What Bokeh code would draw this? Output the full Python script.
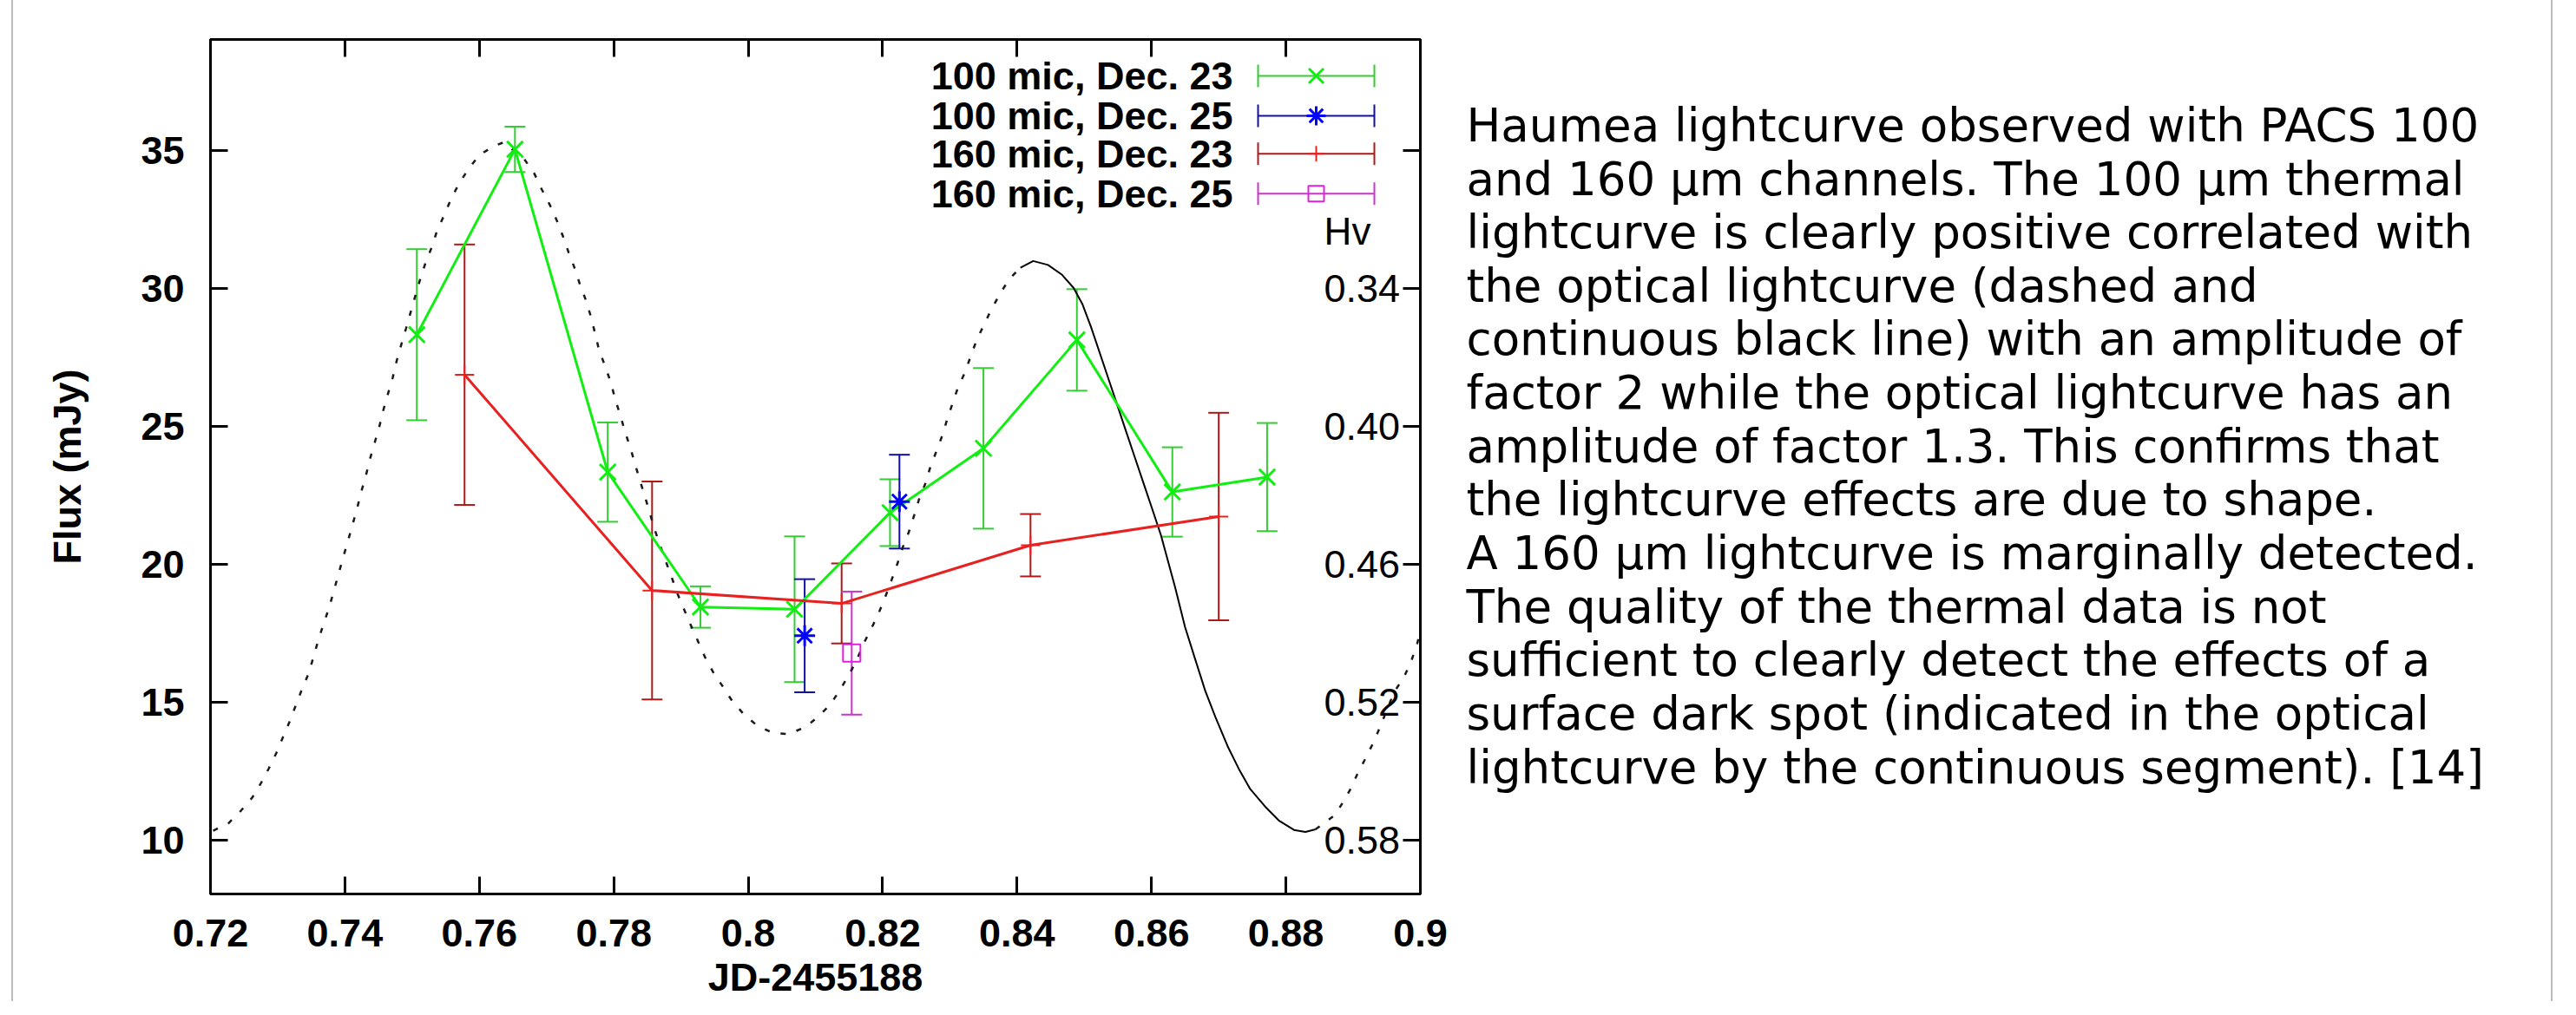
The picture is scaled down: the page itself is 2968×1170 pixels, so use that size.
from bokeh.plotting import figure
from bokeh.layouts import row
from bokeh.models import (Range1d, LinearAxis, FixedTicker, Whisker, TeeHead,
                          ColumnDataSource, Label)
from bokeh.core.properties import value
from bokeh.embed import file_html
from bokeh.resources import INLINE

# ------------------------------------------------------------------ data
x_ticks = [0.72, 0.74, 0.76, 0.78, 0.80, 0.82, 0.84, 0.86, 0.88, 0.90]
x_tick_labels = ["0.72", "0.74", "0.76", "0.78", "0.8", "0.82", "0.84", "0.86", "0.88", "0.9"]
flux_ticks = [10, 15, 20, 25, 30, 35]
hv_ticks = [0.34, 0.40, 0.46, 0.52, 0.58]
hv_tick_labels = ["0.34", "0.40", "0.46", "0.52", "0.58"]
hv_mirror_ticks = [0.28]      # unlabelled tick on the right spine (flux 35 level)
hv_at_flux30 = 0.34           # right-hand Hv scale tie points
hv_at_flux10 = 0.58

series_labels = ["100 mic, Dec. 23", "100 mic, Dec. 25", "160 mic, Dec. 23", "160 mic, Dec. 25"]

jd_100_dec23 = [0.7507, 0.7653, 0.7791, 0.7929, 0.8069, 0.8211, 0.8350, 0.8489, 0.8631, 0.8772]
flux_100_dec23 = [28.33, 35.05, 23.35, 18.46, 18.38, 21.88, 24.21, 28.14, 22.63, 23.17]
err_100_dec23 = [3.10, 0.82, 1.80, 0.75, 2.64, 1.21, 2.91, 1.84, 1.62, 1.96]

jd_100_dec25 = [0.8084, 0.8225]
flux_100_dec25 = [17.42, 22.28]
err_100_dec25 = [2.05, 1.70]

jd_160_dec23 = [0.7578, 0.7857, 0.8139, 0.8420, 0.8700]
flux_160_dec23 = [26.88, 19.06, 18.59, 20.70, 21.74]
err_160_dec23 = [4.72, 3.95, 1.45, 1.13, 3.76]

jd_160_dec25 = [0.8154]
flux_160_dec25 = [16.79]
err_160_dec25 = [2.23]

# optical lightcurve (plotted on the flux scale)
optical_jd = [0.7204, 0.7227, 0.7245, 0.7262, 0.7275, 0.7287, 0.7298, 0.7308, 0.7318,
              0.7327, 0.7336, 0.7346, 0.7353, 0.7360, 0.7368, 0.7376, 0.7383, 0.7390,
              0.7397, 0.7404, 0.7411, 0.7418, 0.7424, 0.7431, 0.7437, 0.7444, 0.7451,
              0.7457, 0.7464, 0.7471, 0.7477, 0.7484, 0.7491, 0.7498, 0.7505, 0.7512,
              0.7520, 0.7529, 0.7537, 0.7548, 0.7558, 0.7570, 0.7584, 0.7600, 0.7621,
              0.7636, 0.7667, 0.7682, 0.7693, 0.7705, 0.7716, 0.7725, 0.7733, 0.7742,
              0.7750, 0.7759, 0.7766, 0.7772, 0.7778, 0.7787, 0.7796, 0.7802, 0.7810,
              0.7817, 0.7825, 0.7832, 0.7847, 0.7854, 0.7861, 0.7869, 0.7878, 0.7887,
              0.7895, 0.7905, 0.7915, 0.7926, 0.7936, 0.7949, 0.7963, 0.7976, 0.7994,
              0.8012, 0.8036, 0.8060, 0.8085, 0.8104, 0.8122, 0.8137, 0.8151, 0.8162,
              0.8172, 0.8183, 0.8194, 0.8204, 0.8213, 0.8222, 0.8230, 0.8239, 0.8247,
              0.8254, 0.8264, 0.8271, 0.8280, 0.8289, 0.8296, 0.8304, 0.8312, 0.8323,
              0.8332, 0.8340, 0.8351, 0.8362, 0.8375, 0.8388, 0.8405, 0.8424, 0.8446,
              0.8467, 0.8484, 0.8497, 0.8510, 0.8523, 0.8536, 0.8549, 0.8562, 0.8575,
              0.8588, 0.8601, 0.8614, 0.8635, 0.8650, 0.8665, 0.8680, 0.8695, 0.8713,
              0.8730, 0.8747, 0.8769, 0.8790, 0.8812, 0.8829, 0.8844, 0.8873, 0.8885,
              0.8896, 0.8906, 0.8917, 0.8930, 0.8941, 0.8951, 0.8962, 0.8975, 0.8986,
              0.8995, 0.9000]
optical_flux = [10.35, 10.63, 11.07, 11.55, 12.07, 12.62, 13.17, 13.75, 14.32,
                14.90, 15.47, 16.05, 16.63, 17.22, 17.83, 18.40, 19.00, 19.61,
                20.22, 20.81, 21.41, 22.02, 22.61, 23.20, 23.80, 24.39, 24.98,
                25.58, 26.18, 26.76, 27.38, 27.98, 28.56, 29.16, 29.76, 30.34,
                30.94, 31.49, 32.09, 32.68, 33.25, 33.82, 34.34, 34.84, 35.16,
                35.30, 34.69, 34.16, 33.59, 33.03, 32.43, 31.86, 31.30, 30.73,
                30.13, 29.55, 28.98, 28.40, 27.78, 27.20, 26.57, 26.00, 25.39,
                24.79, 24.21, 23.61, 22.41, 21.83, 21.26, 20.69, 20.08, 19.48,
                18.93, 18.35, 17.78, 17.18, 16.63, 16.05, 15.55, 15.06, 14.56,
                14.19, 13.90, 13.85, 14.11, 14.48, 14.92, 15.47, 16.05, 16.57,
                17.15, 17.67, 18.23, 18.83, 19.42, 20.03, 20.63, 21.18, 21.79,
                22.35, 22.96, 23.54, 24.11, 24.69, 25.26, 25.84, 26.41, 26.99,
                27.62, 28.14, 28.70, 29.26, 29.82, 30.34, 30.76, 31.00, 30.86,
                30.50, 30.03, 29.45, 28.61, 27.67, 26.73, 25.79, 24.84, 23.90,
                22.96, 22.02, 21.07, 19.19, 17.73, 16.57, 15.42, 14.48, 13.43,
                12.59, 11.86, 11.23, 10.71, 10.38, 10.31, 10.40, 10.92, 11.39,
                11.86, 12.39, 12.91, 13.54, 14.16, 14.79, 15.42, 15.89, 16.47,
                17.10, 17.60]
spot_start = 0.8405   # continuous (dark spot) segment of the optical curve
spot_end = 0.8844

caption_lines = [
    "Haumea lightcurve observed with PACS 100",
    "and 160 \u00b5m channels. The 100 \u00b5m thermal",
    "lightcurve is clearly positive correlated with",
    "the optical lightcurve (dashed and",
    "continuous black line) with an amplitude of",
    "factor 2 while the optical lightcurve has an",
    "amplitude of factor 1.3. This confirms that",
    "the lightcurve effects are due to shape.",
    "A 160 \u00b5m lightcurve is marginally detected.",
    "The quality of the thermal data is not",
    "sufficient to clearly detect the effects of a",
    "surface dark spot (indicated in the optical",
    "lightcurve by the continuous segment). [14]",
]

# ------------------------------------------------------------------ layout / style
W, H = 2952, 1154
CHART_W = 1668
CAP_W = W - CHART_W
CAP_OX = CHART_W                   # caption canvas origin (page px)

FL, FR, FT, FB = 242, 1636, 45, 1031   # chart frame edges (page px)
X0, X1 = 0.72, 0.90
Y0, Y1 = 8.06, 39.03
FONT = "Liberation Sans"
TXT = "45px"


def hv_of(flux):
    return hv_at_flux10 + (flux - 10) * (hv_at_flux30 - hv_at_flux10) / 20.0


def x_at(px):
    return X0 + (px - FL) * (X1 - X0) / (FR - FL)


def y_at(py):
    return Y1 - (py - FT) * (Y1 - Y0) / (FB - FT)


p = figure(width=CHART_W, height=H, x_range=Range1d(X0, X1), y_range=Range1d(Y0, Y1),
           output_backend="svg", toolbar_location=None,
           min_border_left=FL, min_border_right=CHART_W - FR,
           min_border_top=FT, min_border_bottom=H - FB)
p.extra_y_ranges = {"hv": Range1d(start=hv_of(Y0), end=hv_of(Y1))}
p.xgrid.visible = False
p.ygrid.visible = False
p.outline_line_color = "black"
p.outline_line_width = 3
p.background_fill_color = "white"
p.border_fill_color = None


def style_axis(ax):
    ax.major_tick_in = 20
    ax.major_tick_out = 0
    ax.minor_tick_in = 20
    ax.minor_tick_out = 0
    ax.major_tick_line_width = 3
    ax.minor_tick_line_width = 3
    ax.major_tick_line_color = "black"
    ax.minor_tick_line_color = "black"
    ax.axis_line_width = 3
    ax.axis_line_color = "black"
    ax.major_label_text_font = FONT
    ax.major_label_text_font_size = TXT
    ax.major_label_text_font_style = "bold"
    ax.major_label_text_color = "black"
    ax.axis_label_text_font = FONT
    ax.axis_label_text_font_size = TXT
    ax.axis_label_text_font_style = "bold"
    ax.axis_label_text_color = "black"


xa = p.xaxis[0]
style_axis(xa)
xa.ticker = FixedTicker(ticks=x_ticks)
xa.major_label_overrides = dict(zip(x_ticks, x_tick_labels))
xa.major_label_standoff = 29
xa.axis_label = "JD-2455188"
xa.axis_label_standoff = 7

ya = p.yaxis[0]
style_axis(ya)
ya.ticker = FixedTicker(ticks=flux_ticks)
ya.major_label_standoff = 30
ya.axis_label = "Flux (mJy)"
ya.axis_label_standoff = 56

# mirrored (unlabelled) ticks along the top spine
top_ax = LinearAxis(ticker=FixedTicker(ticks=[], minor_ticks=x_ticks))
style_axis(top_ax)
top_ax.major_tick_line_color = None
p.add_layout(top_ax, "above")

# Hv scale: ticks inward on the right spine, labels drawn just inside the frame
hv_ax = LinearAxis(y_range_name="hv", ticker=FixedTicker(ticks=hv_ticks, minor_ticks=hv_mirror_ticks))
style_axis(hv_ax)
hv_ax.major_label_overrides = dict(zip(hv_ticks, hv_tick_labels))
hv_ax.major_label_text_font_style = "normal"
hv_ax.major_label_standoff = -111
p.add_layout(hv_ax, "right")

p.add_layout(Label(x=x_at(1552), y=hv_of(y_at(266)), y_range_name="hv", text="Hv",
                   text_font=FONT, text_font_size="44px", text_align="center",
                   text_baseline="middle", text_color="black"))

# ------------------------------------------------------------------ optical curve
pre = [(x, f) for x, f in zip(optical_jd, optical_flux) if x <= spot_start]
spot = [(x, f) for x, f in zip(optical_jd, optical_flux) if spot_start <= x <= spot_end]
post = [(x, f) for x, f in zip(optical_jd, optical_flux) if x >= spot_end]
for seg in (pre, post):
    p.line([s[0] for s in seg], [s[1] for s in seg], line_color="#1a1a1a",
           line_width=2.5, line_dash="6 13")
p.line([s[0] for s in spot], [s[1] for s in spot], line_color="black", line_width=2)

# ------------------------------------------------------------------ series
series = [
    dict(jd=jd_100_dec23, flux=flux_100_dec23, err=err_100_dec23, bar="#33cc33",
         mark="#11ee11", marker="x", size=26, mlw=3, line=True),
    dict(jd=jd_100_dec25, flux=flux_100_dec25, err=err_100_dec25, bar="#1010a8",
         mark="#0000ff", marker="asterisk", size=24, mlw=3, line=False),
    dict(jd=jd_160_dec23, flux=flux_160_dec23, err=err_160_dec23, bar="#b01818",
         mark="#e82020", marker="cross", size=22, mlw=2, line=True),
    dict(jd=jd_160_dec25, flux=flux_160_dec25, err=err_160_dec25, bar="#cc33cc",
         mark="#dd22dd", marker="square", size=20, mlw=2, line=False),
]

for s in series:
    src = ColumnDataSource(dict(x=s["jd"], y=s["flux"],
                                lower=[f - e for f, e in zip(s["flux"], s["err"])],
                                upper=[f + e for f, e in zip(s["flux"], s["err"])]))
    p.add_layout(Whisker(source=src, base="x", lower="lower", upper="upper",
                         dimension="height", line_color=s["bar"], line_width=2,
                         lower_head=TeeHead(size=24, line_color=s["bar"], line_width=2),
                         upper_head=TeeHead(size=24, line_color=s["bar"], line_width=2)))
    if s["line"]:
        p.line("x", "y", source=src, line_color=s["mark"], line_width=3)
    p.scatter("x", "y", source=src, marker=s["marker"], size=s["size"],
              line_color=s["mark"], fill_color=None, line_width=s["mlw"])

# ------------------------------------------------------------------ key (gnuplot style)
row_py = [87, 133, 177, 223]
key_rows = [y_at(py) for py in row_py]
kx0, kx1, kxm, ktx = x_at(1449), x_at(1583), x_at(1516), x_at(1420)
ksrc = ColumnDataSource(dict(y=key_rows, tx=[ktx] * 4, label=series_labels))
p.text("tx", "y", text="label", source=ksrc, text_align="right", text_baseline="middle",
       text_font=value(FONT), text_font_size=value(TXT), text_font_style=value("bold"),
       text_color="black")
for i, s in enumerate(series):
    one = ColumnDataSource(dict(y=[key_rows[i]], x0=[kx0], x1=[kx1], xm=[kxm]))
    p.add_layout(Whisker(source=one, base="y", lower="x0", upper="x1", dimension="width",
                         line_color=s["bar"], line_width=2,
                         lower_head=TeeHead(size=26, line_color=s["bar"], line_width=2),
                         upper_head=TeeHead(size=26, line_color=s["bar"], line_width=2)))
    p.scatter("xm", "y", source=one, marker=s["marker"],
              size=(18 if s["marker"] == "cross" else s["size"] - 2),
              line_color=s["mark"], fill_color=None, line_width=s["mlw"])

# ------------------------------------------------------------------ caption panel
# its frame shares the chart frame's top/bottom, data units = page pixels
cap = figure(width=CAP_W, height=H, x_range=Range1d(CAP_OX, CAP_OX + CAP_W),
             y_range=Range1d(FB, FT), output_backend="svg", toolbar_location=None,
             min_border_left=0, min_border_right=0,
             min_border_top=FT, min_border_bottom=H - FB,
             x_axis_location=None, y_axis_location=None)
cap.xgrid.visible = False
cap.ygrid.visible = False
cap.outline_line_color = None
cap.border_fill_color = None
cap.background_fill_color = None
first_center, line_step = 144.0, 61.7
cap.text(x=[1689] * len(caption_lines),
         y=[first_center + i * line_step for i in range(len(caption_lines))],
         text=caption_lines, text_align="left", text_baseline="middle",
         text_font=value("DejaVu Sans"), text_font_size=value("53px"), text_color="black")

# thin grey page borders of the source image (x = 14 and x = 2940)
layout = row(p, cap, styles={
    "background-image": ("linear-gradient(to right, transparent 13px, #bcbcbc 13px, "
                         "#bcbcbc 15px, transparent 15px, transparent 2939px, "
                         "#bcbcbc 2939px, #bcbcbc 2941px, transparent 2941px)")})
open("out.html", "w").write(file_html(layout, INLINE))
